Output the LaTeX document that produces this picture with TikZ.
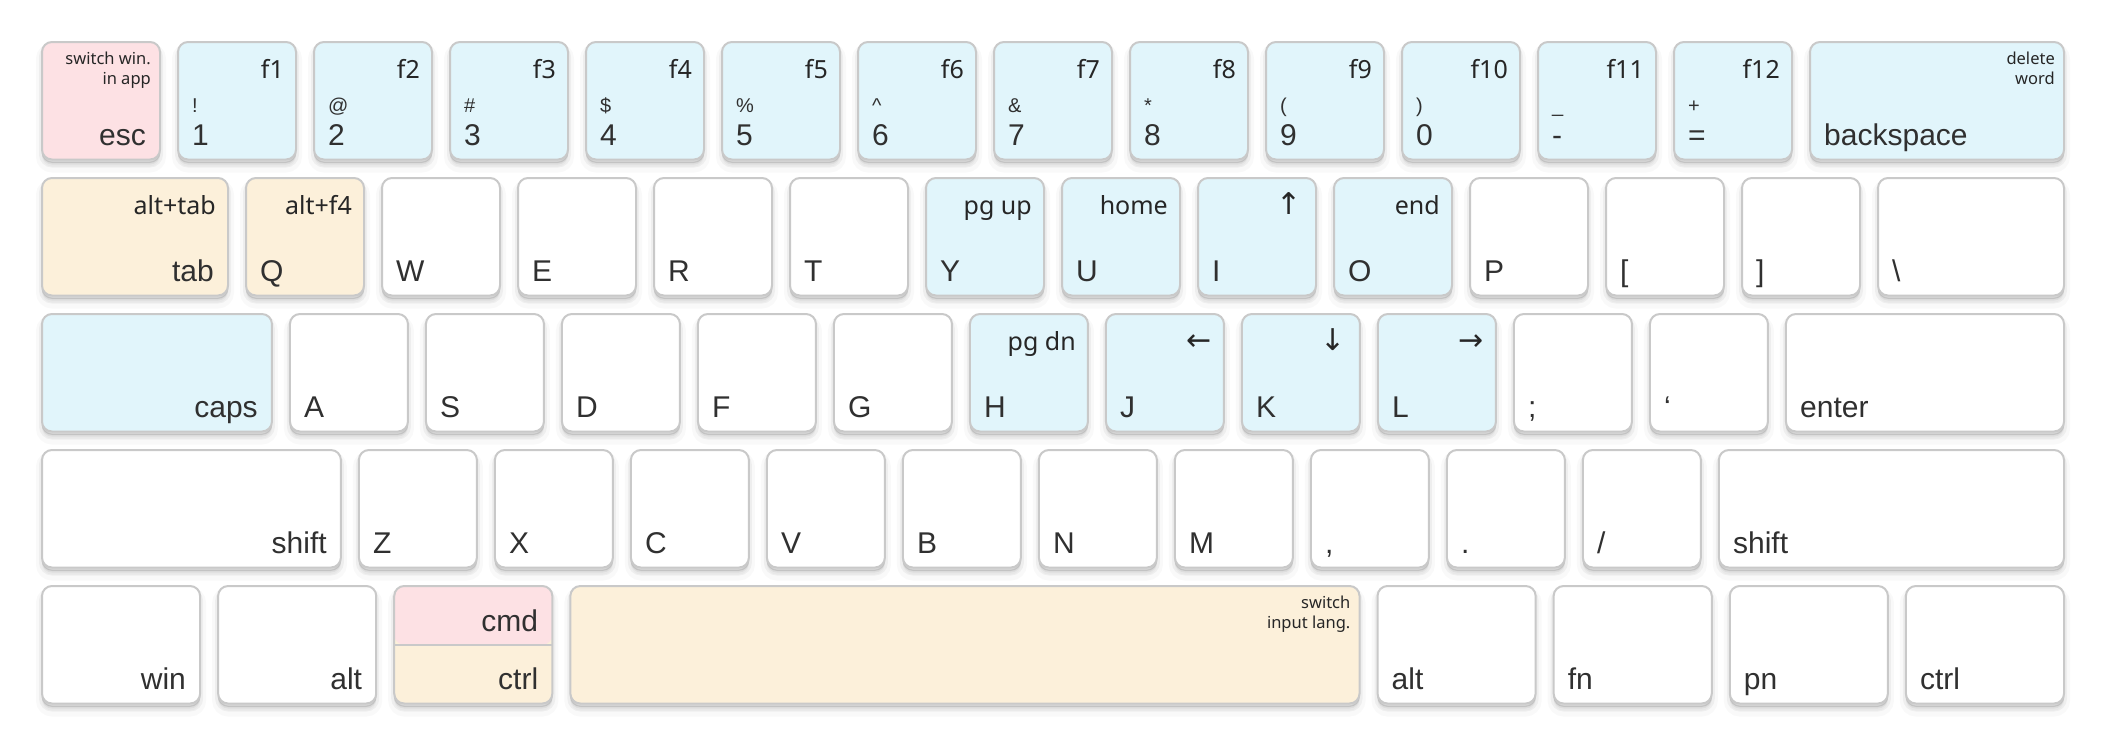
\documentclass[tikz,border=0pt]{standalone}
\usepackage{fontspec}
\setmainfont{Liberation Sans}
\newfontfamily\subfont{Noto Sans}
\newfontfamily\arrfont{DejaVu Sans}
\definecolor{kpink}{HTML}{FDE1E4}
\definecolor{kblue}{HTML}{E1F5FB}
\definecolor{kcream}{HTML}{FCF0DA}
\definecolor{kline}{HTML}{C9C9C9}
\definecolor{ktext}{HTML}{303030}
\newcommand\mkkey[5]{\node[keybox, fill=#5, minimum width={#3*136-18}, anchor=north west] (#1) at ({41+#2*136},{-41-#4*136}) {};}
\newcommand\lblBL[2]{\node[mainlbl, anchor=base west] (#1-m) at ([xshift=15,yshift=15]#1.south west) {#2};}
\newcommand\lblBR[2]{\node[mainlbl, anchor=base east] (#1-m) at ([xshift=-15,yshift=15]#1.south east) {#2};}
\newcommand\lblTR[2]{\node[toplbl, anchor=base east] (#1-t) at ([xshift=-13,yshift=-37]#1.north east) {#2};}
\newcommand\lblNote[2]{\node[notelbl, anchor=north east, align=right] (#1-n) at ([xshift=-10,yshift=-11]#1.north east) {#2};}
\newcommand\lblSym[2]{\node[symlbl, anchor=base west] (#1-s) at ([xshift=15,yshift=48]#1.south west) {#2};}
\tikzset{
  keybox/.style={draw=kline, line width=2, rounded corners=10, inner sep=0, minimum height=117.5,
    preaction={fill=black, draw=black, line width=12, opacity=0.025, transform canvas={yshift=-7}},
    preaction={fill=black, draw=black, line width=6, opacity=0.045, transform canvas={yshift=-5}},
    preaction={fill=black, draw=black, line width=1, opacity=0.07, transform canvas={yshift=-3}}},
  mainlbl/.style={inner sep=0, text=ktext, font=\fontsize{30}{33}\selectfont},
  toplbl/.style={inner sep=0, text=black!85, font=\subfont\fontsize{25}{28}\selectfont},
  arrlbl/.style={font=\arrfont\fontsize{30}{32}\selectfont},
  notelbl/.style={inner sep=0, text=black!85, font=\subfont\fontsize{16.5}{19.5}\selectfont},
  symlbl/.style={inner sep=0, text=ktext, font=\fontsize{20}{22}\selectfont}
}
\begin{document}
\begin{tikzpicture}[x=1pt,y=1pt]
\useasboundingbox (0,0) rectangle (2104,-744);
\fill[white] (0,0) rectangle (2104,-744);
% row 0
\mkkey{esc}{0}{1}{0}{kpink}\lblNote{esc}{switch win.\\in app}\lblBR{esc}{esc}
\foreach \i/\s/\n in {1/!/1,2/@/2,3/\#/3,4/\$/4,5/\%/5,6/\textasciicircum/6,7/\&/7,8/*/8,9/(/9,10/)/0,11/\_/-,12/+/=}{%
  \mkkey{f\i}{\i}{1}{0}{kblue}\lblTR{f\i}{f\i}\lblSym{f\i}{\s}\lblBL{f\i}{\n}}
\mkkey{bksp}{13}{2}{0}{kblue}\lblNote{bksp}{delete\\word}\lblBL{bksp}{backspace}
% row 1
\mkkey{tab}{0}{1.5}{1}{kcream}\lblTR{tab}{alt+tab}\lblBR{tab}{tab}
\mkkey{q}{1.5}{1}{1}{kcream}\lblTR{q}{alt+f4}\lblBL{q}{Q}
\mkkey{w}{2.5}{1}{1}{white}\lblBL{w}{W}
\mkkey{e}{3.5}{1}{1}{white}\lblBL{e}{E}
\mkkey{r}{4.5}{1}{1}{white}\lblBL{r}{R}
\mkkey{t}{5.5}{1}{1}{white}\lblBL{t}{T}
\mkkey{y}{6.5}{1}{1}{kblue}\lblTR{y}{pg up}\lblBL{y}{Y}
\mkkey{u}{7.5}{1}{1}{kblue}\lblTR{u}{home}\lblBL{u}{U}
\mkkey{i}{8.5}{1}{1}{kblue}\node[toplbl, arrlbl, anchor=base east] (i-t) at ([xshift=-15,yshift=-37]i.north east) {↑};\lblBL{i}{I}
\mkkey{o}{9.5}{1}{1}{kblue}\lblTR{o}{end}\lblBL{o}{O}
\mkkey{p}{10.5}{1}{1}{white}\lblBL{p}{P}
\mkkey{lbr}{11.5}{1}{1}{white}\lblBL{lbr}{[}
\mkkey{rbr}{12.5}{1}{1}{white}\lblBL{rbr}{]}
\mkkey{bsl}{13.5}{1.5}{1}{white}\lblBL{bsl}{\textbackslash}
% row 2
\mkkey{caps}{0}{1.823}{2}{kblue}\lblBR{caps}{caps}
\mkkey{a}{1.823}{1}{2}{white}\lblBL{a}{A}
\mkkey{s}{2.823}{1}{2}{white}\lblBL{s}{S}
\mkkey{d}{3.823}{1}{2}{white}\lblBL{d}{D}
\mkkey{f}{4.823}{1}{2}{white}\lblBL{f}{F}
\mkkey{g}{5.823}{1}{2}{white}\lblBL{g}{G}
\mkkey{h}{6.823}{1}{2}{kblue}\lblTR{h}{pg dn}\lblBL{h}{H}
\mkkey{j}{7.823}{1}{2}{kblue}\node[toplbl, arrlbl, anchor=base east] (j-t) at ([xshift=-13,yshift=-37]j.north east) {←};\lblBL{j}{J}
\mkkey{k}{8.823}{1}{2}{kblue}\node[toplbl, arrlbl, anchor=base east] (k-t) at ([xshift=-15,yshift=-37]k.north east) {↓};\lblBL{k}{K}
\mkkey{l}{9.823}{1}{2}{kblue}\node[toplbl, arrlbl, anchor=base east] (l-t) at ([xshift=-13,yshift=-37]l.north east) {→};\lblBL{l}{L}
\mkkey{semi}{10.823}{1}{2}{white}\lblBL{semi}{;}
\mkkey{quot}{11.823}{1}{2}{white}\lblBL{quot}{‘}
\mkkey{enter}{12.823}{2.177}{2}{white}\lblBL{enter}{enter}
% row 3
\mkkey{lshift}{0}{2.33}{3}{white}\lblBR{lshift}{shift}
\mkkey{z}{2.33}{1}{3}{white}\lblBL{z}{Z}
\mkkey{x}{3.33}{1}{3}{white}\lblBL{x}{X}
\mkkey{c}{4.33}{1}{3}{white}\lblBL{c}{C}
\mkkey{v}{5.33}{1}{3}{white}\lblBL{v}{V}
\mkkey{b}{6.33}{1}{3}{white}\lblBL{b}{B}
\mkkey{n}{7.33}{1}{3}{white}\lblBL{n}{N}
\mkkey{m}{8.33}{1}{3}{white}\lblBL{m}{M}
\mkkey{comma}{9.33}{1}{3}{white}\lblBL{comma}{,}
\mkkey{dot}{10.33}{1}{3}{white}\lblBL{dot}{.}
\mkkey{slash}{11.33}{1}{3}{white}\lblBL{slash}{/}
\mkkey{rshift}{12.33}{2.67}{3}{white}\lblBL{rshift}{shift}
% row 4
\mkkey{win}{0}{1.295}{4}{white}\lblBR{win}{win}
\mkkey{lalt}{1.295}{1.295}{4}{white}\lblBR{lalt}{alt}
\node[keybox, fill=kcream, minimum width={1.295*136-18}, anchor=north west,
  path picture={\fill[kpink] (path picture bounding box.north west) rectangle (path picture bounding box.east);}]
  (cmd) at ({41+2.59*136},{-41-4*136}) {};
\draw[kline, line width=2] (cmd.west) -- (cmd.east);
\node[mainlbl, anchor=base east] (cmd-m) at ([xshift=-15,yshift=13.5]cmd.east) {cmd};
\lblBR{cmd}{ctrl}
\mkkey{space}{3.885}{5.935}{4}{kcream}\lblNote{space}{switch\\input lang.}
\mkkey{ralt}{9.82}{1.295}{4}{white}\lblBL{ralt}{alt}
\mkkey{fn}{11.115}{1.295}{4}{white}\lblBL{fn}{fn}
\mkkey{pn}{12.41}{1.295}{4}{white}\lblBL{pn}{pn}
\mkkey{rctrl}{13.705}{1.295}{4}{white}\lblBL{rctrl}{ctrl}
\end{tikzpicture}
\end{document}
